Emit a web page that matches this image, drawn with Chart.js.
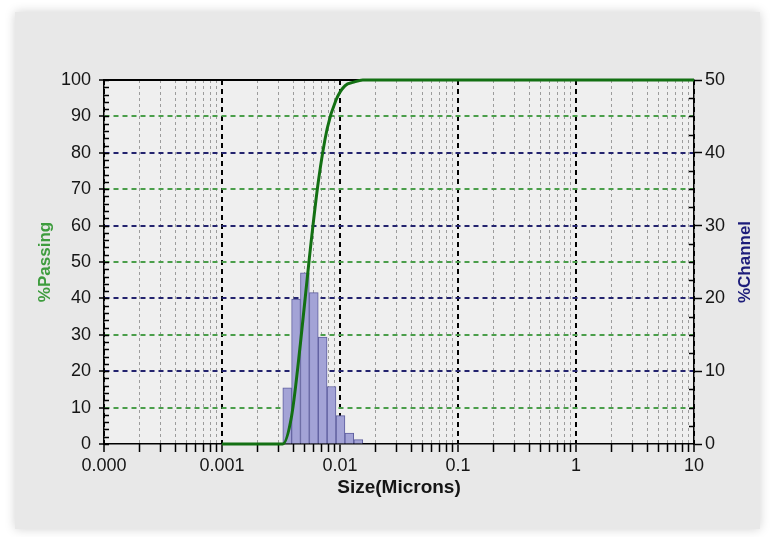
<!DOCTYPE html>
<html>
<head>
<meta charset="utf-8">
<script src="https://cdn.jsdelivr.net/npm/chart.js@4/dist/chart.umd.min.js"></script>
<style>
  html, body { margin: 0; padding: 0; background: #fff; }
</style>
</head>
<body>
<canvas id="myChart" width="772" height="537"></canvas>
<script>
// % in each size channel (right axis), channel centres in microns
const channelSizes = [0.00357, 0.00424, 0.00504, 0.00600, 0.00713, 0.00848, 0.0101, 0.0120, 0.0143];
const channelPercent = [7.7, 19.9, 23.5, 20.8, 14.7, 7.9, 3.9, 1.5, 0.6];

// cumulative % passing (left axis)
const passingSizes = [0.001, 0.00327, 0.00389, 0.00462, 0.0055, 0.00654, 0.00778, 0.00925, 0.011, 0.0131, 0.0156, 10];
const passingPercent = [0, 0, 7.7, 27.6, 51.1, 71.9, 86.6, 94.5, 98.4, 99.4, 100, 100];

const xTickValues = [0.0001, 0.001, 0.01, 0.1, 1, 10];
const xTickLabels = ['0.000', '0.001', '0.01', '0.1', '1', '10'];

const FONT = '"Liberation Sans", Arial, sans-serif';
const greenGrid = '#4a9e4a';
const navyGrid = '#23236e';

// tick lists for the axes
const minorX = [];
for (let e = -4; e <= 0; e++) {
    for (let m = 2; m <= 9; m++) {
        minorX.push(parseFloat((m * Math.pow(10, e)).toPrecision(3)));
    }
}
const leftTicks = [];
for (let v = 0; v <= 100; v += 2) leftTicks.push(v);
const rightTicks = [];
for (let v = 0; v <= 50; v += 2.5) rightTicks.push(v);

const framePlugin = {
    id: 'frame',
    beforeDraw(chart) {
        const c = chart.ctx;
        const a = chart.chartArea;
        c.save();
        c.fillStyle = '#ffffff';
        c.fillRect(0, 0, chart.width, chart.height);
        c.shadowColor = 'rgba(0,0,0,0.18)';
        c.shadowBlur = 10;
        c.fillStyle = '#e8e8e8';
        c.fillRect(15, 12, chart.width - 27, chart.height - 20);
        c.shadowBlur = 0;
        c.fillStyle = '#efefef';
        c.fillRect(a.left, a.top, a.right - a.left, a.bottom - a.top);
        c.restore();
    },
    beforeDatasetsDraw(chart) {
        const c = chart.ctx;
        const a = chart.chartArea;
        c.save();
        c.strokeStyle = '#000';
        c.lineWidth = 2;
        c.beginPath();
        c.moveTo(a.left, a.top);
        c.lineTo(a.right, a.top);
        c.stroke();
        // inner minor ticks
        const y = chart.scales.y;
        const y2 = chart.scales.y2;
        c.lineWidth = 1.5;
        c.beginPath();
        leftTicks.forEach(v => {
            const p = Math.round(y.getPixelForValue(v)) + 0.5;
            c.moveTo(a.left, p);
            c.lineTo(a.left + 5, p);
        });
        rightTicks.forEach(v => {
            if (v % 10 === 0) return;
            const p = Math.round(y2.getPixelForValue(v)) + 0.5;
            c.moveTo(a.right, p);
            c.lineTo(a.right - 5, p);
        });
        c.stroke();
        c.restore();
    },
    afterDraw(chart) {
        const c = chart.ctx;
        const a = chart.chartArea;
        c.save();
        c.translate(745, (a.top + a.bottom) / 2);
        c.rotate(-Math.PI / 2);
        c.font = 'bold 17px ' + FONT;
        c.fillStyle = '#1c1c7a';
        c.textAlign = 'center';
        c.textBaseline = 'middle';
        c.fillText('%Channel', 0, 0);
        c.restore();
    }
};

const ctx = document.getElementById('myChart').getContext('2d');
new Chart(ctx, {
    data: {
        datasets: [
            {
                type: 'line',
                label: '%Passing',
                data: passingSizes.map((s, i) => ({ x: s, y: passingPercent[i] })),
                xAxisID: 'x',
                yAxisID: 'y',
                borderColor: '#137013',
                borderWidth: 3,
                pointRadius: 0,
                cubicInterpolationMode: 'monotone',
                clip: 4,
                order: 0
            },
            {
                type: 'bar',
                label: '%Channel',
                data: channelSizes.map((s, i) => ({ x: s, y: channelPercent[i] })),
                xAxisID: 'x',
                yAxisID: 'y2',
                backgroundColor: '#a3a3d6',
                borderColor: '#5e5e9e',
                borderWidth: 1,
                barPercentage: 1,
                categoryPercentage: 1,
                order: 1
            }
        ]
    },
    options: {
        responsive: false,
        animation: false,
        layout: { padding: { top: 80, left: 0, right: 0, bottom: 0 } },
        plugins: {
            legend: { display: false },
            tooltip: { enabled: false }
        },
        scales: {
            x: {
                type: 'logarithmic',
                position: 'bottom',
                offset: false,
                min: 0.0001,
                max: 10,
                afterBuildTicks: s => { s.ticks = xTickValues.map(v => ({ value: v })); },
                afterFit: s => { s.height = 93; },
                ticks: {
                    autoSkip: false,
                    maxRotation: 0,
                    padding: 3,
                    color: '#151515',
                    font: { family: FONT, size: 18 },
                    callback: (v, i) => xTickLabels[i]
                },
                grid: {
                    offset: false,
                    color: '#000',
                    lineWidth: 2,
                    tickLength: 8,
                    tickColor: '#000',
                    tickWidth: 1.5
                },
                border: { color: '#000', width: 1.5, dash: [5, 4] },
                title: {
                    display: true,
                    text: 'Size(Microns)',
                    color: '#151515',
                    font: { family: FONT, size: 19, weight: 'bold' },
                    padding: { top: 2, bottom: 38 }
                }
            },
            xm: {
                type: 'logarithmic',
                position: 'bottom',
                weight: -5,
                offset: false,
                min: 0.0001,
                max: 10,
                afterBuildTicks: s => { s.ticks = minorX.map(v => ({ value: v })); },
                afterFit: s => { s.height = 0; },
                ticks: { display: false },
                grid: {
                    offset: false,
                    color: '#9c9c9c',
                    lineWidth: 1,
                    tickLength: 8,
                    tickColor: '#000',
                    tickWidth: 1.5
                },
                border: { display: false, dash: [3, 3] }
            },
            y: {
                position: 'left',
                min: 0,
                max: 100,
                afterBuildTicks: s => { s.ticks = leftTicks.map(v => ({ value: v })); },
                afterFit: s => { s.width = 104; },
                ticks: {
                    autoSkip: false,
                    padding: 8,
                    color: '#151515',
                    font: { family: FONT, size: 18 },
                    callback: v => (v % 10 === 0 ? String(v) : '')
                },
                grid: {
                    color: c => {
                        const v = c.tick.value;
                        if (v % 10 !== 0 || v === 0 || v === 100) return 'transparent';
                        return (v / 10) % 2 ? greenGrid : navyGrid;
                    },
                    lineWidth: 2,
                    tickLength: 5,
                    tickColor: c => (c.tick.value % 10 === 0 ? '#000' : 'transparent'),
                    tickWidth: 1.5
                },
                border: { color: '#000', width: 1.5, dash: [5, 4] },
                title: {
                    display: true,
                    text: '%Passing',
                    color: '#3e9c3e',
                    font: { family: FONT, size: 17, weight: 'bold' },
                    padding: { top: 35, bottom: 0 }
                }
            },
            y2: {
                position: 'right',
                min: 0,
                max: 50,
                afterBuildTicks: s => { s.ticks = rightTicks.map(v => ({ value: v })); },
                afterFit: s => { s.width = 78; },
                ticks: {
                    autoSkip: false,
                    padding: 3,
                    color: '#151515',
                    font: { family: FONT, size: 18 },
                    callback: v => (v % 10 === 0 ? String(v) : '')
                },
                grid: {
                    drawOnChartArea: false,
                    tickLength: 8,
                    tickColor: c => (c.tick.value % 10 === 0 ? '#000' : 'transparent'),
                    tickWidth: 1.5
                },
                border: { color: '#000', width: 1.5 }
            }
        }
    },
    plugins: [framePlugin]
});
</script>
</body>
</html>
